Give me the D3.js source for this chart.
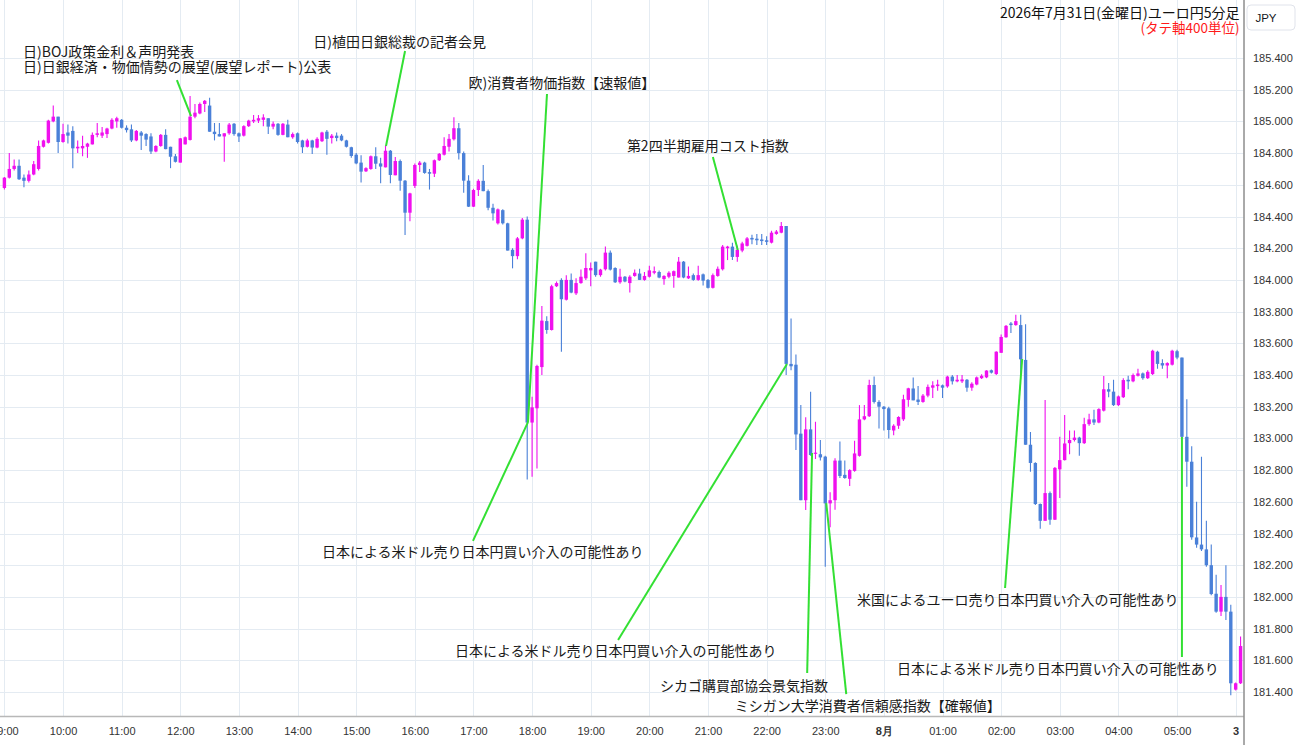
<!DOCTYPE html>
<html><head><meta charset="utf-8">
<script src="https://cdn.jsdelivr.net/npm/d3@7"></script>
<style>
html,body{margin:0;padding:0;background:#fff;}
svg{display:block;}
</style></head><body>
<svg id="chart" width="1300" height="745"></svg>
<script>
// 5-minute candles from 09:00, [open, high, low, close]
const candles = [
[184.58,184.65,184.57,184.645],[184.645,184.80,184.64,184.70],[184.70,184.76,184.69,184.72],[184.72,184.76,184.63,184.635],
[184.645,184.665,184.585,184.625],[184.625,184.69,184.615,184.665],[184.665,184.75,184.66,184.73],[184.70,184.88,184.69,184.845],
[184.84,184.885,184.835,184.88],[184.865,185.01,184.86,185.005],[185.0,185.10,184.995,185.03],[185.03,185.03,184.80,184.87],
[184.87,184.985,184.865,184.92],[184.93,184.98,184.86,184.91],[184.94,184.97,184.705,184.83],[184.83,184.88,184.80,184.84],
[184.83,184.91,184.78,184.845],[184.84,184.865,184.77,184.86],[184.855,184.93,184.855,184.915],[184.915,184.99,184.90,184.925],
[184.91,184.965,184.895,184.93],[184.92,184.96,184.895,184.955],[184.955,185.02,184.95,185.01],[185.0,185.03,184.96,185.02],
[185.01,185.015,184.955,184.96],[184.96,184.975,184.93,184.945],[184.95,184.98,184.87,184.88],[184.88,184.945,184.875,184.94],
[184.93,184.94,184.82,184.91],[184.92,184.925,184.845,184.885],[184.905,184.925,184.795,184.81],[184.81,184.85,184.805,184.845],
[184.845,184.92,184.84,184.915],[184.915,184.95,184.825,184.825],[184.84,184.84,184.705,184.777],[184.78,184.795,184.74,184.745],
[184.74,184.895,184.74,184.893],[184.855,184.905,184.855,184.90],[184.883,185.16,184.88,185.03],[185.03,185.11,185.02,185.055],
[185.05,185.12,185.045,185.11],[185.11,185.135,185.06,185.13],[185.10,185.15,184.935,184.935],[184.935,184.99,184.88,184.92],
[184.92,184.99,184.905,184.905],[184.905,184.925,184.745,184.925],[184.925,184.99,184.915,184.98],[184.985,184.99,184.91,184.92],
[184.925,184.93,184.87,184.905],[184.91,184.975,184.905,184.97],[184.97,185.01,184.965,185.005],[185.0,185.04,184.99,185.01],
[185.005,185.04,184.99,185.02],[185.01,185.045,184.97,185.025],[185.02,185.02,184.92,184.967],[184.967,185.0,184.95,184.985],
[184.985,184.99,184.91,184.915],[184.915,184.99,184.912,184.985],[184.98,185.01,184.90,184.90],[184.90,184.93,184.89,184.92],
[184.925,184.93,184.86,184.87],[184.88,184.885,184.80,184.837],[184.84,184.89,184.835,184.88],[184.88,184.885,184.795,184.835],
[184.835,184.90,184.83,184.89],[184.875,184.935,184.87,184.93],[184.935,184.945,184.79,184.89],[184.895,184.92,184.86,184.91],
[184.91,184.93,184.875,184.895],[184.91,184.92,184.875,184.88],[184.88,184.885,184.835,184.84],[184.837,184.84,184.77,184.782],
[184.79,184.80,184.73,184.735],[184.74,184.787,184.615,184.683],[184.685,184.71,184.68,184.705],[184.70,184.785,184.695,184.78],
[184.78,184.837,184.70,184.733],[184.735,184.77,184.61,184.715],[184.71,184.85,184.71,184.815],[184.815,184.82,184.61,184.662],
[184.66,184.775,184.66,184.75],[184.75,184.76,184.563,184.626],[184.626,184.63,184.283,184.424],[184.424,184.55,184.37,184.546],
[184.593,184.735,184.58,184.725],[184.725,184.75,184.68,184.74],[184.74,184.745,184.67,184.675],[184.68,184.70,184.57,184.67],
[184.67,184.76,184.65,184.755],[184.755,184.80,184.75,184.795],[184.79,184.90,184.785,184.845],[184.84,184.92,184.81,184.89],
[184.887,185.026,184.88,184.957],[184.957,184.99,184.76,184.80],[184.80,184.81,184.55,184.626],[184.626,184.66,184.46,184.462],
[184.462,184.575,184.46,184.567],[184.567,184.635,184.53,184.625],[184.625,184.725,184.56,184.56],[184.56,184.57,184.44,184.455],
[184.455,184.48,184.375,184.42],[184.357,184.45,184.35,184.445],[184.44,184.445,184.35,184.357],[184.357,184.36,184.185,184.185],
[184.19,184.20,184.073,184.15],[184.15,184.27,184.13,184.262],[184.262,184.39,184.256,184.38],[184.38,184.40,182.74,183.10],
[183.10,183.263,182.758,183.196],[183.19,183.465,182.81,183.457],[183.45,183.835,183.40,183.743],[183.74,183.77,183.66,183.684],
[183.684,183.97,183.68,183.96],[183.96,183.99,183.955,183.98],[184.0,184.01,183.547,183.878],[183.875,184.03,183.87,184.0],
[184.0,184.04,183.915,183.92],[183.915,184.01,183.905,183.98],[183.98,184.065,183.975,184.02],[184.01,184.168,184.0,184.075],
[184.06,184.11,183.96,184.075],[184.115,184.115,184.02,184.03],[184.03,184.07,184.02,184.065],[184.067,184.21,184.06,184.172],
[184.172,184.185,184.06,184.065],[184.075,184.08,183.98,183.985],[183.985,184.07,183.975,184.02],[184.02,184.025,183.985,183.99],
[183.98,184.03,183.92,184.02],[184.025,184.065,184.02,184.045],[184.04,184.07,184.0,184.0],[184.0,184.05,183.995,184.025],
[184.02,184.09,184.015,184.06],[184.045,184.085,184.035,184.055],[184.05,184.06,184.01,184.015],[184.005,184.03,183.97,184.025],
[184.02,184.055,184.01,184.045],[184.025,184.06,183.95,184.055],[184.015,184.145,184.015,184.115],[184.115,184.12,184.01,184.015],
[184.01,184.085,184.005,184.025],[184.03,184.04,183.995,184.0],[184.0,184.09,183.995,184.03],[184.035,184.04,183.965,183.995],
[184.0,184.005,183.945,183.95],[183.95,184.04,183.945,184.03],[184.025,184.085,184.02,184.07],[184.067,184.22,184.06,184.21],
[184.20,184.215,184.125,184.21],[184.21,184.235,184.125,184.145],[184.145,184.215,184.115,184.19],[184.185,184.24,184.175,184.23],
[184.215,184.27,184.21,184.262],[184.265,184.285,184.225,184.255],[184.26,184.29,184.22,184.25],[184.255,184.29,184.22,184.245],
[184.25,184.275,184.22,184.24],[184.235,184.31,184.23,184.298],[184.29,184.315,184.285,184.305],[184.298,184.365,184.295,184.34],
[184.34,184.34,183.40,183.47],[183.47,183.757,183.43,183.455],[183.465,183.53,182.927,183.025],[183.03,183.21,182.61,182.61],
[182.61,183.133,182.548,183.057],[183.057,183.295,182.89,182.895],[182.905,183.105,182.87,182.91],[182.90,182.99,182.86,182.88],
[182.885,182.89,182.19,182.59],[182.59,182.66,182.439,182.61],[182.61,182.875,182.55,182.86],[182.86,182.98,182.75,182.763],
[182.77,182.86,182.745,182.75],[182.745,182.805,182.70,182.80],[182.795,182.985,182.79,182.905],[182.89,183.21,182.885,183.12],
[183.12,183.21,183.115,183.14],[183.14,183.37,183.135,183.337],[183.337,183.39,183.22,183.23],[183.23,183.24,183.063,183.20],
[183.20,183.205,183.05,183.185],[183.19,183.20,183.0,183.053],[183.05,183.09,183.02,183.08],[183.08,183.14,183.06,183.135],
[183.12,183.275,183.11,183.247],[183.243,183.32,183.20,183.316],[183.315,183.385,183.24,183.24],[183.245,183.33,183.21,183.23],
[183.23,183.28,183.225,183.27],[183.27,183.34,183.26,183.325],[183.32,183.36,183.255,183.335],[183.33,183.37,183.30,183.34],
[183.335,183.34,183.255,183.32],[183.328,183.395,183.32,183.39],[183.39,183.40,183.34,183.36],[183.36,183.40,183.355,183.37],
[183.36,183.40,183.35,183.372],[183.37,183.375,183.295,183.32],[183.32,183.355,183.30,183.345],[183.34,183.39,183.335,183.385],
[183.38,183.405,183.375,183.395],[183.385,183.43,183.38,183.428],[183.43,183.435,183.41,183.415],[183.406,183.55,183.40,183.547],
[183.54,183.655,183.54,183.64],[183.638,183.715,183.635,183.71],[183.725,183.735,183.665,183.715],[183.715,183.78,183.71,183.74],
[183.715,183.78,183.40,183.499],[183.495,183.72,182.96,182.96],[182.96,183.04,182.79,182.845],[182.845,182.85,182.58,182.586],
[182.586,182.59,182.43,182.48],[182.48,183.243,182.48,182.655],[182.655,182.665,182.455,182.487],[182.487,182.82,182.485,182.814],
[182.805,183.01,182.624,182.863],[182.863,183.148,182.86,182.968],[182.97,183.05,182.90,182.99],[182.99,183.05,182.98,183.005],
[183.005,183.01,182.89,182.97],[182.97,183.13,182.965,183.09],[183.09,183.155,183.08,183.12],[183.12,183.18,183.085,183.10],
[183.10,183.19,183.095,183.185],[183.175,183.394,183.17,183.31],[183.31,183.35,183.26,183.295],[183.295,183.37,183.205,183.21],
[183.21,183.27,183.205,183.265],[183.26,183.38,183.255,183.368],[183.37,183.395,183.31,183.36],[183.36,183.41,183.355,183.40],
[183.395,183.44,183.39,183.41],[183.41,183.415,183.37,183.38],[183.38,183.43,183.375,183.42],[183.406,183.56,183.40,183.553],
[183.547,183.553,183.44,183.47],[183.475,183.50,183.44,183.46],[183.46,183.48,183.38,183.475],[183.465,183.56,183.46,183.553],
[183.55,183.56,183.50,183.51],[183.51,183.51,183.0,183.01],[183.01,183.247,182.695,182.853],[182.853,182.95,182.36,182.376],
[182.375,182.60,182.31,182.33],[182.33,182.885,182.29,182.30],[182.30,182.48,182.19,182.20],[182.20,182.33,182.01,182.018],
[182.02,182.14,181.90,181.907],[181.907,182.075,181.88,182.0],[182.0,182.20,181.855,181.907],[181.907,181.95,181.38,181.455],
[181.415,181.46,181.41,181.455],[181.455,181.75,181.45,181.69]
];

// x-axis labels: [candle index, label]
const timeTicks = [[0,"09:00"],[12,"10:00"],[24,"11:00"],[36,"12:00"],[48,"13:00"],[60,"14:00"],[72,"15:00"],
  [84,"16:00"],[96,"17:00"],[108,"18:00"],[120,"19:00"],[132,"20:00"],[144,"21:00"],[156,"22:00"],[168,"23:00"],
  [180,"8月"],[192,"01:00"],[204,"02:00"],[216,"03:00"],[228,"04:00"],[240,"05:00"],[252,"3"]];
const dayLabels = ["8月","3"];
const priceTicks = [181.4,181.6,181.8,182.0,182.2,182.4,182.6,182.8,183.0,183.2,183.4,183.6,183.8,184.0,184.2,184.4,184.6,184.8,185.0,185.2,185.4];

const titleText = "2026年7月31日(金曜日)ユーロ円5分足";
const subtitleText = "(タテ軸400単位)";
const currencyText = "JPY";

// annotations: anchor (index, price), line start (index, price), text position (index, price)
const annotations = [
  {lines:["日)BOJ政策金利＆声明発表","日)日銀経済・物価情勢の展望(展望レポート)公表"], ai:38.2, ap:185.034, li:35.3, lp:185.261, ti:3.8, tp:[185.444,185.350]},
  {lines:["日)植田日銀総裁の記者会見"], ai:78.1, ap:184.845, li:82.0, lp:185.444, ti:63.2, tp:[185.507]},
  {lines:["欧)消費者物価指数【速報値】"], ai:107.16, ap:183.103, li:111.05, lp:185.173, ti:95.0, tp:[185.249]},
  {lines:["日本による米ドル売り日本円買い介入の可能性あり"], ai:107.16, ap:183.103, li:95.9, lp:182.353, ti:65.0, tp:[182.290]},
  {lines:["第2四半期雇用コスト指数"], ai:150.1, ap:184.189, li:145.0, lp:184.775, ti:127.4, tp:[184.851]},
  {lines:["日本による米ドル売り日本円買い介入の可能性あり"], ai:160.17, ap:183.469, li:125.6, lp:181.728, ti:92.2, tp:[181.665]},
  {lines:["シカゴ購買部協会景気指数"], ai:165.3, ap:182.908, li:164.3, lp:181.520, ti:134.2, tp:[181.444]},
  {lines:["ミシガン大学消費者信頼感指数【確報値】"], ai:168.2, ap:182.592, li:172.3, lp:181.387, ti:149.5, tp:[181.318]},
  {lines:["米国によるユーロ売り日本円買い介入の可能性あり"], ai:208.3, ap:183.501, li:204.8, lp:182.056, ti:174.5, tp:[181.987]},
  {lines:["日本による米ドル売り日本円買い介入の可能性あり"], ai:241.0, ap:183.009, li:241.0, lp:181.621, ti:182.7, tp:[181.55]}
];

const W = 1300, H = 745, plotW = 1243.5, plotH = 716;
const UP = "#f010ee", DOWN = "#4a80d8", GRID = "#e4ebf2", GREEN = "#33e033";
const JP = "'Noto Sans CJK JP','Noto Sans',sans-serif";
const NUM = "'Liberation Sans','DejaVu Sans',sans-serif";

const svg = d3.select("#chart");
const x = d3.scaleLinear().domain([-0.9, 253.6]).range([0, plotW]);
const y = d3.scaleLinear().domain([181.4, 185.4]).range([692, 58]);

svg.append("defs").append("clipPath").attr("id","plotclip")
  .append("rect").attr("x",0).attr("y",0).attr("width",plotW).attr("height",plotH);

// grid
const grid = svg.append("g").attr("clip-path","url(#plotclip)");
grid.append("g").selectAll("line").data(priceTicks).join("line")
  .attr("x1",0).attr("x2",plotW).attr("y1",d=>Math.round(y(d))+0.5).attr("y2",d=>Math.round(y(d))+0.5)
  .attr("stroke",GRID).attr("stroke-width",1);
grid.append("g").selectAll("line").data(timeTicks).join("line")
  .attr("y1",0).attr("y2",plotH).attr("x1",d=>Math.round(x(d[0]))+0.5).attr("x2",d=>Math.round(x(d[0]))+0.5)
  .attr("stroke",GRID).attr("stroke-width",1);

// candles
const plot = svg.append("g").attr("clip-path","url(#plotclip)");
const cg = plot.selectAll("g.c").data(candles).join("g").attr("class","c");
cg.append("line")
  .attr("x1",(d,i)=>x(i)).attr("x2",(d,i)=>x(i))
  .attr("y1",d=>y(d[1])).attr("y2",d=>y(d[2]))
  .attr("stroke",d=>d[3]>=d[0]?UP:DOWN).attr("stroke-width",1.1);
cg.append("rect")
  .attr("x",(d,i)=>x(i)-1.7).attr("width",3.4)
  .attr("y",d=>y(Math.max(d[0],d[3])))
  .attr("height",d=>Math.max(1.2, Math.abs(y(d[0])-y(d[3]))))
  .attr("fill",d=>d[3]>=d[0]?UP:DOWN);

// annotations
const ag = svg.append("g").attr("clip-path","url(#plotclip)");
annotations.forEach(a=>{
  ag.append("line").attr("x1",x(a.li)).attr("y1",y(a.lp)).attr("x2",x(a.ai)).attr("y2",y(a.ap))
    .attr("stroke",GREEN).attr("stroke-width",2);
});
annotations.forEach(a=>{
  a.lines.forEach((t,k)=>{
    ag.append("text").attr("x",x(a.ti)).attr("y",y(a.tp[k])).attr("dominant-baseline","central")
      .attr("font-family",JP).attr("font-size",14).attr("fill","#1a1a1a").text(t);
  });
});

// header
svg.append("text").attr("x",1239.5).attr("y",12).attr("text-anchor","end").attr("dominant-baseline","central")
  .attr("font-family",JP).attr("font-size",14).attr("fill","#111").text(titleText);
svg.append("text").attr("x",1239.5).attr("y",27).attr("text-anchor","end").attr("dominant-baseline","central")
  .attr("font-family",JP).attr("font-size",13.5).attr("fill","#ff1a1a").text(subtitleText);

// y axis
const yAxis = d3.axisRight(y).tickValues(priceTicks).tickFormat(d3.format(".3f")).tickSize(0).tickPadding(9.5);
const yg = svg.append("g").attr("transform",`translate(${plotW},0)`).call(yAxis);
yg.select(".domain").remove();
yg.selectAll("text").attr("font-family",NUM).attr("font-size",11).attr("fill","#333");

// x axis
const xAxis = d3.axisBottom(x).tickValues(timeTicks.map(d=>d[0]))
  .tickFormat(i=>timeTicks.find(d=>d[0]===i)[1]).tickSize(0).tickPadding(11);
const xg = svg.append("g").attr("transform",`translate(0,${plotH})`).call(xAxis);
xg.select(".domain").remove();
xg.selectAll("text").attr("font-family",NUM).attr("font-size",11).attr("fill","#333")
  .attr("font-weight",(i)=>dayLabels.includes(timeTicks.find(d=>d[0]===i)[1])?"bold":"normal");

// borders
svg.append("line").attr("x1",0).attr("x2",plotW).attr("y1",plotH+0.5).attr("y2",plotH+0.5).attr("stroke","#b8b8b8").attr("stroke-width",1.5);
svg.append("line").attr("x1",plotW+0.5).attr("x2",plotW+0.5).attr("y1",0).attr("y2",H).attr("stroke","#555").attr("stroke-width",1);

// currency box
svg.append("rect").attr("x",1247).attr("y",5).attr("width",48).attr("height",25).attr("rx",4)
  .attr("fill","#fff").attr("stroke","#e0e3eb");
svg.append("text").attr("x",1266).attr("y",17.5).attr("text-anchor","middle").attr("dominant-baseline","central")
  .attr("font-family",NUM).attr("font-size",11.5).attr("fill","#131722").text(currencyText);
</script>
</body></html>
